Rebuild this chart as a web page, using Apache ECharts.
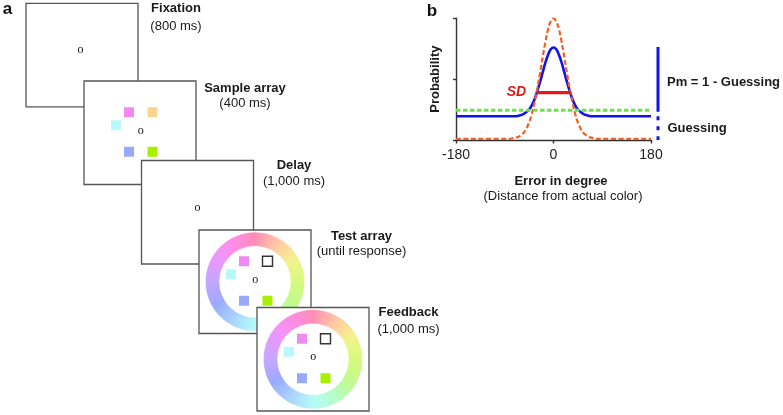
<!DOCTYPE html>
<html><head><meta charset="utf-8">
<script src="https://cdn.jsdelivr.net/npm/echarts@6/dist/echarts.min.js"></script>
<style>html,body{margin:0;padding:0;background:#fff;}#c{width:783px;height:415px;}</style>
</head><body><div id="c"></div>
<script>
// ---------- panel b data ----------
const errorDeg = [-180,-80,-75,-70,-65,-60,-55,-50,-45,-40,-35,-30,-25,-20,-15,-10,-5,0,5,10,15,20,25,30,35,40,45,50,55,60,65,70,75,80,180];
const mixtureProb = [0.39,0.39,0.39,0.39,0.40,0.41,0.43,0.46,0.50,0.57,0.67,0.80,0.95,1.11,1.27,1.40,1.49,1.52,1.49,1.40,1.27,1.11,0.95,0.80,0.67,0.57,0.50,0.46,0.43,0.41,0.40,0.39,0.39,0.39,0.39];
const memoryProb  = [0.02,0.02,0.03,0.04,0.05,0.08,0.12,0.19,0.29,0.43,0.62,0.84,1.09,1.36,1.61,1.82,1.95,2.00,1.95,1.82,1.61,1.36,1.09,0.84,0.62,0.43,0.29,0.19,0.12,0.08,0.05,0.04,0.03,0.02,0.02];
const guessDeg = [-180, 180];
const guessProb = [0.49, 0.49];
const sdDeg = [-31, 32];
const sdProb = [0.78, 0.78];
const pmRange = [1.53, 0.465];
const guessRange = [0.39, 0];
const xTicks = [-180, 0, 180];
const yTicks = [0, 1, 2];

// ---------- panel a (schematic) ----------
const frameNames = ['Fixation', 'Sample array', 'Delay', 'Test array', 'Feedback'];
const frameDurations = ['(800 ms)', '(400 ms)', '(1,000 ms)', '(until response)', '(1,000 ms)'];
const frameCorners = [[26, 3.3], [84, 81], [141.5, 160.5], [199, 230], [257, 307.5]];
const frameContent = ['fix', 'sample', 'fix', 'test', 'test'];
const labelCenters = [[176, 8.5, 26], [245, 88, 103], [294, 165, 181.5], [361.5, 236, 251.7], [408.5, 312.7, 329]];
const fixOffsets = [[-1.5, -5], [0.7, -2.3], [0, -4], [0.3, -1.5], [0.3, -2]];
const sampleColors = ['#f08af2', '#fcd592', '#b8fafa', '#98a9f8', '#a6f000'];
const squareOffsets = [[-11, -20.5], [12.5, -20.5], [-24, -7.5], [-11, 19], [12.5, 19]];
const wheelStops = ['#ff8cb6', '#ffc8a2', '#f4f28e', '#d6fa7e', '#c0fa8c', '#b6fcc8', '#b4fcf6', '#aad4ff', '#9aaaff', '#c4a6ff', '#e898ff', '#ff8ce8'];

const FONT = "'Liberation Sans', Arial, Helvetica, sans-serif";
const FRAME_W = 112, FRAME_H = 103.5, SQ = 10, R_OUT = 49, R_IN = 36;

function hexToRgb(h){ h=h.replace('#',''); return [parseInt(h.substr(0,2),16),parseInt(h.substr(2,2),16),parseInt(h.substr(4,2),16)]; }
function wheelColor(deg){
  const n = wheelStops.length, pos = ((deg % 360) + 360) % 360 / (360 / n);
  const i = Math.floor(pos), t = pos - i;
  const a = hexToRgb(wheelStops[i % n]), b = hexToRgb(wheelStops[(i + 1) % n]);
  return 'rgb(' + a.map((v, k) => Math.round(v + (b[k] - v) * t)).join(',') + ')';
}

function renderFrame(params, api) {
  const i = api.value(2);
  const x0 = api.value(0), y0 = api.value(1);
  const p0 = api.coord([x0, y0]);
  const sz = api.size([FRAME_W, FRAME_H]);
  const cx = p0[0] + sz[0] / 2, cy = p0[1] + sz[1] / 2;
  const children = [];
  children.push({type: 'rect', shape: {x: p0[0], y: p0[1], width: sz[0], height: sz[1]},
    style: {fill: '#fff', stroke: '#555', lineWidth: 1.3}});
  const kind = frameContent[i];
  if (kind === 'test') {
    const ro = api.size([R_OUT, 0])[0], ri = api.size([R_IN, 0])[0];
    for (let k = 0; k < 90; k++) {
      const a0 = k * 4, a1 = (k + 1) * 4;
      const col = wheelColor(a0 + 2);
      children.push({type: 'sector', shape: {cx: cx, cy: cy, r0: ri, r: ro,
        startAngle: (a0 - 90) * Math.PI / 180, endAngle: (a1 - 90 + 0.3) * Math.PI / 180, clockwise: true},
        style: {fill: col, stroke: col, lineWidth: 0.6}});
    }
  }
  if (kind === 'sample' || kind === 'test') {
    const s = api.size([SQ, SQ]);
    squareOffsets.forEach((o, j) => {
      const outline = (kind === 'test' && j === 1);
      children.push({type: 'rect', shape: {x: cx + o[0] - s[0] / 2, y: cy + o[1] - s[1] / 2, width: s[0], height: s[1]},
        style: outline ? {fill: '#fff', stroke: '#333', lineWidth: 1.4} : {fill: sampleColors[j]}});
    });
  }
  const fo = fixOffsets[i];
  children.push({type: 'text', style: {text: 'o', x: cx + fo[0], y: cy + fo[1], fill: '#111',
    font: "12px 'Liberation Serif', 'Times New Roman', serif", align: 'center', verticalAlign: 'middle', textAlign: 'center', textVerticalAlign: 'middle'}});
  const lc = labelCenters[i];
  const t1 = api.coord([lc[0], lc[1]]), t2 = api.coord([lc[0], lc[2]]);
  children.push({type: 'text', style: {text: frameNames[i], x: t1[0], y: t1[1], fill: '#1a1a1a',
    font: 'bold 13px ' + FONT, align: 'center', verticalAlign: 'middle', textAlign: 'center', textVerticalAlign: 'middle'}});
  children.push({type: 'text', style: {text: frameDurations[i], x: t2[0], y: t2[1], fill: '#1a1a1a',
    font: '13px ' + FONT, align: 'center', verticalAlign: 'middle', textAlign: 'center', textVerticalAlign: 'middle'}});
  return {type: 'group', children: children};
}

const chart = echarts.init(document.getElementById('c'), null, {renderer: 'canvas'});
const axisCol = '#333';
function txt(text, x, y, font, color, align) {
  return {type: 'text', x: x, y: y, style: {text: text, font: font, fill: color || '#1a1a1a',
    align: align || 'center', verticalAlign: 'middle', textAlign: align || 'center', textVerticalAlign: 'middle'}};
}
chart.setOption({
  animation: false,
  backgroundColor: '#fff',
  grid: [
    {left: 456, top: 18.3, width: 195, height: 121.7},
    {left: 652, top: 18.3, width: 12, height: 121.7},
    {left: 0, top: 0, width: 783, height: 415}
  ],
  xAxis: [
    {type: 'value', gridIndex: 0, min: xTicks[0], max: xTicks[xTicks.length - 1], interval: xTicks[1] - xTicks[0],
      axisLine: {show: true, onZero: false, lineStyle: {color: axisCol, width: 1.4}},
      axisTick: {show: true, length: 3.5, lineStyle: {color: axisCol, width: 1.4}},
      axisLabel: {fontSize: 14, color: '#222', margin: 8, fontFamily: FONT},
      splitLine: {show: false}},
    {type: 'value', gridIndex: 1, min: 0, max: 1, show: false},
    {type: 'value', gridIndex: 2, min: 0, max: 783, show: false}
  ],
  yAxis: [
    {type: 'value', gridIndex: 0, min: yTicks[0], max: yTicks[yTicks.length - 1], interval: yTicks[1] - yTicks[0],
      axisLine: {show: true, onZero: false, lineStyle: {color: axisCol, width: 1.4}},
      axisTick: {show: true, length: 3, lineStyle: {color: axisCol, width: 1.4}},
      axisLabel: {show: false}, splitLine: {show: false},
      name: 'Probability', nameLocation: 'middle', nameGap: 14,
      nameTextStyle: {fontSize: 13, fontWeight: 'bold', color: '#1a1a1a', fontFamily: FONT}},
    {type: 'value', gridIndex: 1, min: yTicks[0], max: yTicks[yTicks.length - 1], show: false},
    {type: 'value', gridIndex: 2, min: 0, max: 415, inverse: true, show: false}
  ],
  series: [
    {type: 'line', xAxisIndex: 0, yAxisIndex: 0, smooth: 0.4, symbol: 'none',
      data: errorDeg.map((x, i) => [x, mixtureProb[i]]),
      lineStyle: {color: '#1212ee', width: 2.6}, z: 3},
    {type: 'line', xAxisIndex: 0, yAxisIndex: 0, smooth: 0.4, symbol: 'none',
      data: errorDeg.map((x, i) => [x, memoryProb[i]]),
      lineStyle: {color: '#f06022', width: 2.2, type: [5, 2.5]}, z: 4},
    {type: 'line', xAxisIndex: 0, yAxisIndex: 0, symbol: 'none',
      data: guessDeg.map((x, i) => [x, guessProb[i]]),
      lineStyle: {color: '#6ee04c', width: 3, type: [4.5, 2.5]}, z: 4},
    {type: 'line', xAxisIndex: 0, yAxisIndex: 0, symbol: 'none',
      data: sdDeg.map((x, i) => [x, sdProb[i]]),
      lineStyle: {color: '#e81818', width: 3.2}, z: 5},
    {type: 'line', xAxisIndex: 1, yAxisIndex: 1, symbol: 'none',
      data: pmRange.map(v => [0.5, v]),
      lineStyle: {color: '#1212ee', width: 3}},
    {type: 'line', xAxisIndex: 1, yAxisIndex: 1, symbol: 'none',
      data: guessRange.map(v => [0.5, v]),
      lineStyle: {color: '#1212ee', width: 3, type: [4, 6]}},
    {type: 'custom', xAxisIndex: 2, yAxisIndex: 2, clip: false,
      data: frameCorners.map((c, i) => [c[0], c[1], i]),
      encode: {x: 0, y: 1},
      renderItem: renderFrame, silent: true}
  ],
  graphic: [
    txt('a', 7.5, 9.5, 'bold 17px ' + FONT, '#111'),
    txt('b', 432, 11, 'bold 17px ' + FONT, '#111'),
    txt('Error in degree', 561, 181.7, 'bold 13px ' + FONT),
    txt('(Distance from actual color)', 563, 196.5, '13px ' + FONT),
    txt('Pm = 1 - Guessing', 667, 82.7, 'bold 13px ' + FONT, '#1a1a1a', 'left'),
    txt('Guessing', 667.5, 128, 'bold 13px ' + FONT, '#1a1a1a', 'left'),
    txt('SD', 516.5, 92.5, 'italic bold 14px ' + FONT, '#e01818')
  ]
});
</script></body></html>
